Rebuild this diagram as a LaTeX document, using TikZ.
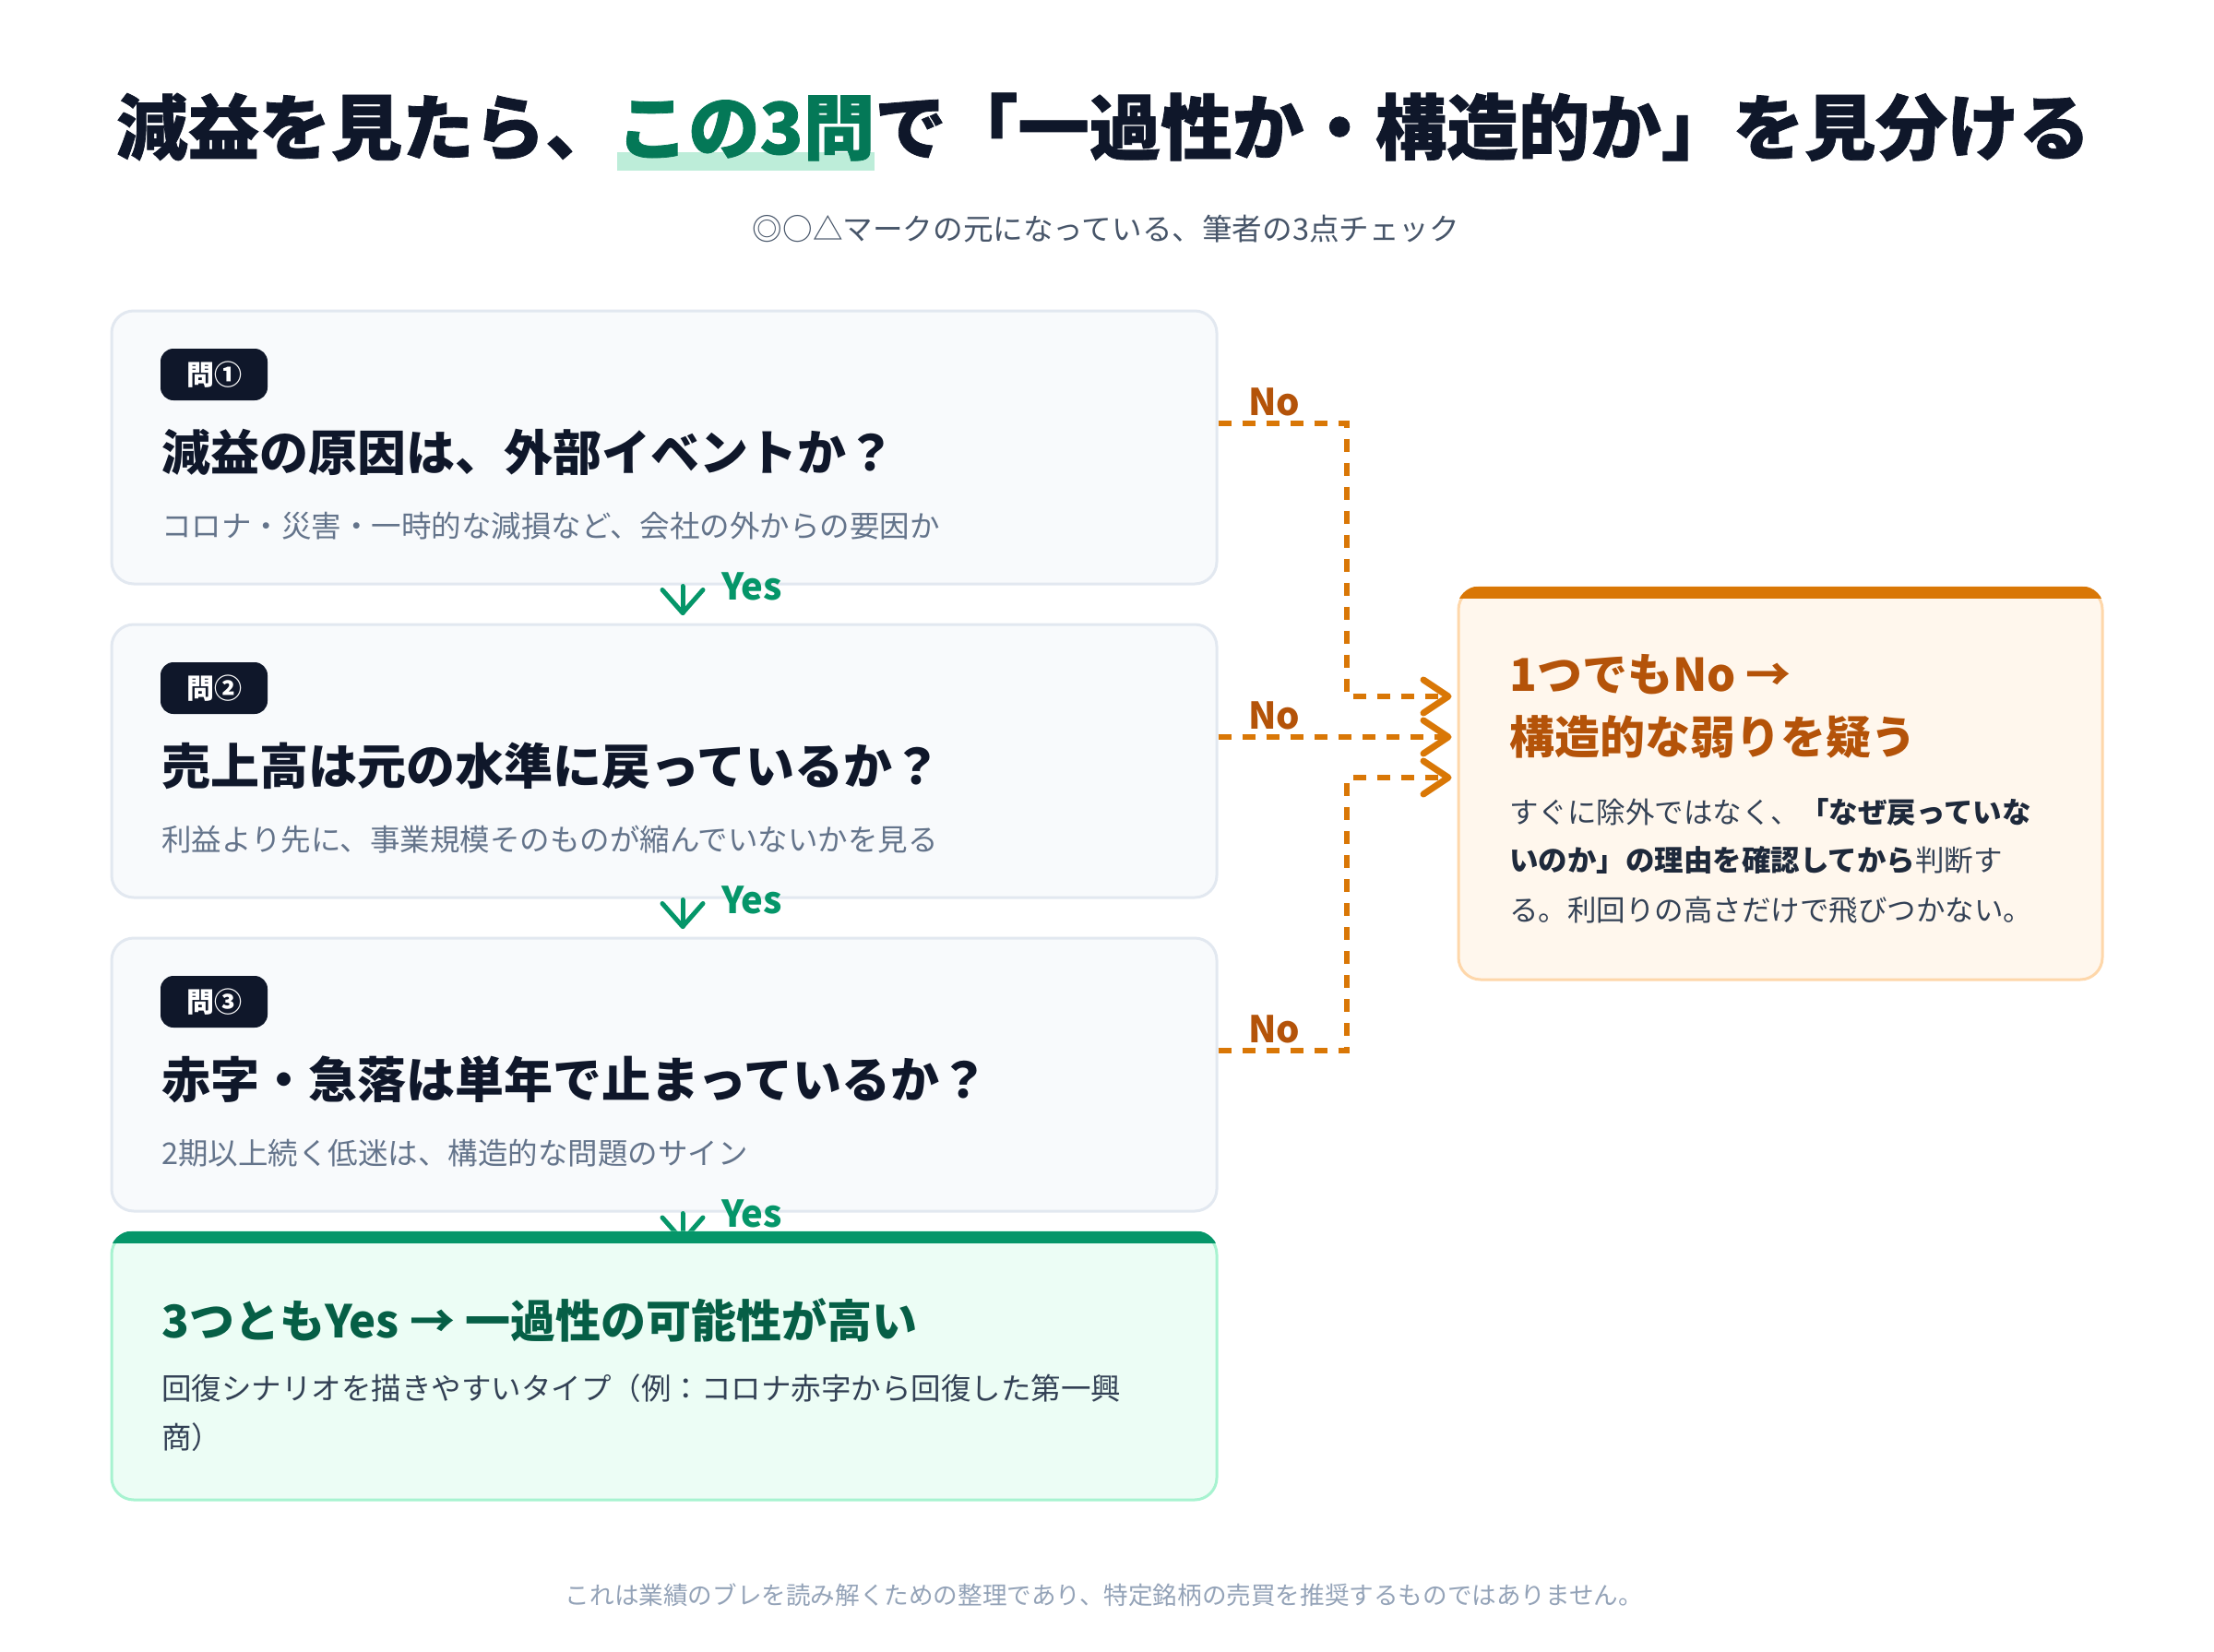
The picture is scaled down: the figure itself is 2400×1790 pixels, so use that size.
\documentclass[tikz,border=0pt]{standalone}
\usepackage{fontspec}
\setmainfont{Noto Sans CJK JP}
\usetikzlibrary{calc}
\definecolor{navy}{HTML}{0F172A}
\definecolor{slatefive}{HTML}{64748B}
\definecolor{slatesix}{HTML}{475569}
\definecolor{slatefour}{HTML}{94A3B8}
\definecolor{slatesev}{HTML}{334155}
\definecolor{slateeight}{HTML}{1E293B}
\definecolor{boxfill}{HTML}{F8FAFC}
\definecolor{boxline}{HTML}{E2E8F0}
\definecolor{greensix}{HTML}{059669}
\definecolor{greenseven}{HTML}{047857}
\definecolor{greeneight}{HTML}{065F46}
\definecolor{greenbg}{HTML}{ECFDF5}
\definecolor{greenline}{HTML}{A7F3D0}
\definecolor{hlc}{HTML}{BDEDD9}
\definecolor{ambersix}{HTML}{D97706}
\definecolor{ambersev}{HTML}{B45309}
\definecolor{orangebg}{HTML}{FFF7ED}
\definecolor{orangeline}{HTML}{FED7AA}
\newcommand\fsz[1]{\fontsize{#1}{#1}\selectfont}
\newsavebox\hlbox
\newcommand\hlmark[1]{\sbox\hlbox{#1}\rlap{\color{hlc}\rule[-18pt]{\wd\hlbox}{20pt}}\usebox\hlbox}
\begin{document}
\begin{tikzpicture}[x=1pt,y=-1pt,
  qbox/.style={draw=boxline, line width=3pt, fill=boxfill, rounded corners=24pt,
    minimum width=1198pt, minimum height=296pt, inner sep=0pt},
  badge/.style={fill=navy, rounded corners=14pt, minimum width=116pt, minimum height=56pt, inner sep=0pt},
  badgetext/.style={text=white, font=\fsz{30}\bfseries, inner sep=0pt, anchor=base},
  qtitle/.style={text=navy, font=\fsz{53}\bfseries, inner sep=0pt, anchor=base west},
  qdesc/.style={text=slatefive, font=\fsz{32.5}, inner sep=0pt, anchor=base west},
  yeslbl/.style={text=greensix, font=\fsz{40}\bfseries, inner sep=0pt, anchor=base west},
  nolbl/.style={text=ambersev, font=\fsz{40}\bfseries, inner sep=0pt, anchor=base west},
  yesline/.style={draw=greensix, line width=5pt, line cap=round, line join=round},
  nodash/.style={draw=ambersix, line width=6pt, dash pattern=on 14pt off 12pt},
  chev/.style={draw=ambersix, line width=7pt, line cap=round, line join=round},
  bodytxt/.style={text=slatesev, font=\fsz{31.5}, inner sep=0pt, anchor=base west}
]
\useasboundingbox (0,0) rectangle (2400,1790);
\fill[white] (0,0) rectangle (2400,1790);

% title
\node[inner sep=0pt, anchor=base, text=navy, font=\fsz{77.5}\bfseries\addfontfeatures{FakeBold=1}] (title) at (1196,167)
  {減益を見たら、\hlmark{\textcolor{greenseven}{この3問}}で「一過性か・構造的か」を見分ける};
\node[inner sep=0pt, anchor=base, text=slatesix, font=\fsz{32.6}] (subtitle) at (1199,260)
  {◎○△マークの元になっている、筆者の3点チェック};

% question boxes
\node[qbox] (q1) at (720,485) {};
\node[qbox] (q2) at (720,825) {};
\node[qbox] (q3) at (720,1165) {};

\node[badge] (b1) at (232,406) {};
\node[badgetext] (b1t) at (232,417) {問①};
\node[qtitle] (q1t) at (175,510) {減益の原因は、外部イベントか？};
\node[qdesc] (q1d) at (175,582) {コロナ・災害・一時的な減損など、会社の外からの要因か};

\node[badge] (b2) at (232,746) {};
\node[badgetext] (b2t) at (232,757) {問②};
\node[qtitle] (q2t) at (175,850) {売上高は元の水準に戻っているか？};
\node[qdesc] (q2d) at (175,922) {利益より先に、事業規模そのものが縮んでいないかを見る};

\node[badge] (b3) at (232,1086) {};
\node[badgetext] (b3t) at (232,1097) {問③};
\node[qtitle] (q3t) at (175,1190) {赤字・急落は単年で止まっているか？};
\node[qdesc] (q3d) at (175,1262) {2期以上続く低迷は、構造的な問題のサイン};

% yes arrows
\coordinate (y1) at ($(q2.north)+(20,-11)$);
\coordinate (y2) at ($(q3.north)+(20,-11)$);
\draw[yesline] ($(q1.south)+(20,1)$) -- (y1);
\draw[yesline] ($(y1)+(-22,-25)$) -- (y1) -- ($(y1)+(22,-25)$);
\draw[yesline] ($(q2.south)+(20,1)$) -- (y2);
\draw[yesline] ($(y2)+(-22,-25)$) -- (y2) -- ($(y2)+(22,-25)$);
\coordinate (y3) at (740,1345);
\draw[yesline] ($(q3.south)+(20,1)$) -- (y3);
\draw[yesline] ($(y3)+(-22,-25)$) -- (y3) -- ($(y3)+(22,-25)$);

% result box (green)
\node[draw=greenline, line width=3pt, fill=greenbg, rounded corners=24pt,
  minimum width=1198pt, minimum height=290pt, inner sep=0pt] (res) at (720,1481) {};
\begin{scope}
  \clip[rounded corners=24pt] (res.north west) rectangle (res.south east);
  \fill[greensix] (res.north west) rectangle ($(res.north east)+(0,13)$);
\end{scope}
\node[inner sep=0pt, anchor=base west, text=greeneight, font=\fsz{49}\bfseries] (rest) at (175,1450)
  {3つともYes → 一過性の可能性が高い};
\node[bodytxt, font=\fsz{32.5}] (resd1) at (175,1517) {回復シナリオを描きやすいタイプ（例：コロナ赤字から回復した第一興};
\node[bodytxt, font=\fsz{32.5}] (resd2) at (175,1570) {商）};

% yes labels
\node[yeslbl] (yes1) at (782,650) {Yes};
\node[yeslbl] (yes2) at (782,990) {Yes};
\node[yeslbl] (yes3) at (782,1330) {Yes};

% orange box
\node[draw=orangeline, line width=3pt, fill=orangebg, rounded corners=24pt,
  minimum width=698pt, minimum height=425pt, inner sep=0pt] (weak) at (1930,849.5) {};
\begin{scope}
  \clip[rounded corners=24pt] (weak.north west) rectangle (weak.south east);
  \fill[ambersix] (weak.north west) rectangle ($(weak.north east)+(0,13)$);
\end{scope}
\node[inner sep=0pt, anchor=base west, text=ambersev, font=\fsz{49}\bfseries] (wt1) at (1636,749) {1つでもNo →};
\node[inner sep=0pt, anchor=base west, text=ambersev, font=\fsz{49}\bfseries] (wt2) at (1636,817) {構造的な弱りを疑う};
\node[bodytxt] (wb1) at (1636,892) {すぐに除外ではなく、\textcolor{slateeight}{\bfseries 「なぜ戻っていな}};
\node[bodytxt] (wb2) at (1636,944) {\textcolor{slateeight}{\bfseries いのか」の理由を確認してから}判断す};
\node[bodytxt] (wb3) at (1636,998) {る。利回りの高さだけで飛びつかない。};

% no connectors
\coordinate (in1) at (1570,755);
\coordinate (in2) at (1570,799);
\coordinate (in3) at (1570,843);
\draw[nodash] ([yshift=26pt]q1.east) -| ($(in1)+(-110,0)$) -- (in1);
\draw[nodash] ([yshift=26pt]q2.east) -- (in2);
\draw[nodash] ([yshift=26pt]q3.east) -| ($(in3)+(-110,0)$) -- (in3);
\draw[chev] ($(in1)+(-27,-18)$) -- (in1) -- ($(in1)+(-27,18)$);
\draw[chev] ($(in2)+(-27,-18)$) -- (in2) -- ($(in2)+(-27,18)$);
\draw[chev] ($(in3)+(-27,-18)$) -- (in3) -- ($(in3)+(-27,18)$);
\node[nolbl] (no1) at (1353,450) {No};
\node[nolbl] (no2) at (1353,790) {No};
\node[nolbl] (no3) at (1353,1130) {No};

% footer
\node[inner sep=0pt, anchor=base, text=slatefour, font=\fsz{26.6}] (foot) at (1197,1739)
  {これは業績のブレを読み解くための整理であり、特定銘柄の売買を推奨するものではありません。};
\end{tikzpicture}
\end{document}
